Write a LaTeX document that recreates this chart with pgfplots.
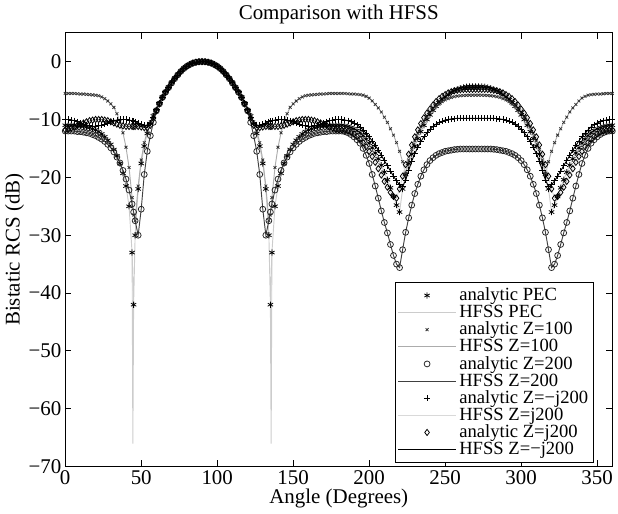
\documentclass[border=0pt]{standalone}
\usepackage{fontspec}
\setmainfont{Liberation Serif}
\usepackage{pgfplots}
\usepackage{pgfplotstable}
\pgfplotsset{compat=1.18}

% angle, PEC, Z=100, Z=200, Z=-j200, Z=j200 (dB)
\pgfplotstableread{
ang pec z100 z200 zmj zj
0 -11.0 -5.5 -12.0 -10.0 -11.8
2 -11.0 -5.5 -12.0 -10.0 -11.7
4 -11.0 -5.5 -12.0 -10.1 -11.5
6 -11.0 -5.5 -12.0 -10.2 -11.3
8 -11.1 -5.55 -12.1 -10.4 -11.0
10 -11.1 -5.6 -12.1 -10.6 -10.8
12 -11.2 -5.6 -12.2 -10.8 -10.6
14 -11.3 -5.65 -12.3 -11.0 -10.4
16 -11.4 -5.7 -12.4 -11.1 -10.2
18 -11.6 -5.75 -12.6 -11.2 -10.1
20 -11.8 -5.8 -12.8 -11.2 -10.0
22 -12.1 -5.9 -13.1 -11.1 -10.0
24 -12.5 -6.1 -13.4 -11.0 -10.0
26 -13.0 -6.4 -13.8 -10.8 -10.1
28 -13.6 -6.8 -14.3 -10.6 -10.2
30 -14.3 -7.3 -14.9 -10.4 -10.4
32 -15.2 -7.9 -15.6 -10.2 -10.6
34 -16.3 -9.0 -16.5 -10.1 -10.8
36 -17.6 -10.4 -17.5 -10.0 -11.0
38 -19.3 -12.3 -18.8 -10.0 -11.1
40 -21.5 -14.8 -20.3 -10.0 -11.2
42 -25.0 -18.3 -22.2 -10.1 -11.2
44 -33.0 -23.5 -24.6 -10.2 -11.2
45 -42.0 -26.5 -26.0 -10.3 -11.2
46 -30.0 -27.5 -27.5 -10.4 -11.2
48 -22.0 -21.5 -30.0 -10.6 -11.2
50 -17.6 -17.0 -25.5 -10.8 -11.3
52 -14.6 -14.0 -19.5 -11.0 -11.4
54 -12.4 -12.0 -15.5 -11.0 -11.4
56 -10.7 -10.4 -12.8 -10.6 -11.0
58 -9.4 -9.2 -10.5 -9.6 -9.8
60 -8.3 -8.2 -8.5 -8.3 -8.5
62 -7.2 -7.1 -7.3 -7.1 -7.3
64 -6.1 -6.1 -6.2 -6.1 -6.2
66 -5.2 -5.2 -5.3 -5.2 -5.3
68 -4.4 -4.4 -4.5 -4.4 -4.5
70 -3.6 -3.6 -3.7 -3.6 -3.7
72 -2.9 -2.9 -2.95 -2.9 -2.95
74 -2.3 -2.3 -2.3 -2.3 -2.3
76 -1.7 -1.7 -1.7 -1.7 -1.7
78 -1.2 -1.2 -1.2 -1.2 -1.2
80 -0.8 -0.8 -0.8 -0.8 -0.8
82 -0.5 -0.5 -0.5 -0.5 -0.5
84 -0.25 -0.25 -0.25 -0.25 -0.25
86 -0.1 -0.1 -0.1 -0.1 -0.1
88 -0.02 -0.02 -0.02 -0.02 -0.02
90 0 0 0 0 0
92 -0.02 -0.02 -0.02 -0.02 -0.02
94 -0.1 -0.1 -0.1 -0.1 -0.1
96 -0.25 -0.25 -0.25 -0.25 -0.25
98 -0.5 -0.5 -0.5 -0.5 -0.5
100 -0.8 -0.8 -0.8 -0.8 -0.8
102 -1.2 -1.2 -1.2 -1.2 -1.2
104 -1.7 -1.7 -1.7 -1.7 -1.7
106 -2.3 -2.3 -2.3 -2.3 -2.3
108 -2.9 -2.9 -2.95 -2.9 -2.95
110 -3.6 -3.6 -3.7 -3.6 -3.7
112 -4.4 -4.4 -4.5 -4.4 -4.5
114 -5.2 -5.2 -5.3 -5.2 -5.3
116 -6.1 -6.1 -6.2 -6.1 -6.2
118 -7.2 -7.1 -7.3 -7.1 -7.3
120 -8.3 -8.2 -8.5 -8.3 -8.5
122 -9.4 -9.2 -10.5 -9.6 -9.8
124 -10.7 -10.4 -12.8 -10.6 -11.0
126 -12.4 -12.0 -15.5 -11.0 -11.4
128 -14.6 -14.0 -19.5 -11.0 -11.4
130 -17.6 -17.0 -25.5 -10.8 -11.3
132 -22.0 -21.5 -30.0 -10.6 -11.2
134 -30.0 -27.5 -27.5 -10.4 -11.2
135 -42.0 -26.5 -26.0 -10.3 -11.2
136 -33.0 -23.5 -24.6 -10.2 -11.2
138 -25.0 -18.3 -22.2 -10.1 -11.2
140 -21.5 -14.8 -20.3 -10.0 -11.2
142 -19.3 -12.3 -18.8 -10.0 -11.1
144 -17.6 -10.4 -17.5 -10.0 -11.0
146 -16.3 -9.0 -16.5 -10.1 -10.8
148 -15.2 -7.9 -15.6 -10.2 -10.6
150 -14.3 -7.3 -14.9 -10.4 -10.4
152 -13.6 -6.8 -14.3 -10.6 -10.2
154 -13.0 -6.4 -13.8 -10.8 -10.1
156 -12.5 -6.1 -13.4 -11.0 -10.0
158 -12.1 -5.9 -13.1 -11.1 -10.0
160 -11.8 -5.8 -12.8 -11.2 -10.0
162 -11.6 -5.75 -12.6 -11.2 -10.1
164 -11.4 -5.7 -12.4 -11.1 -10.2
166 -11.3 -5.65 -12.3 -11.0 -10.4
168 -11.2 -5.6 -12.2 -10.8 -10.6
170 -11.1 -5.6 -12.1 -10.6 -10.8
172 -11.1 -5.55 -12.1 -10.4 -11.0
174 -11.0 -5.5 -12.0 -10.2 -11.3
176 -11.0 -5.5 -12.0 -10.1 -11.5
178 -11.0 -5.5 -12.0 -10.0 -11.7
180 -11.0 -5.5 -12.0 -10.0 -11.8
182 -11.0 -5.5 -12.0 -10.0 -11.8
184 -11.1 -5.5 -12.1 -10.1 -11.9
186 -11.2 -5.55 -12.3 -10.2 -12.0
188 -11.4 -5.6 -12.6 -10.4 -12.2
190 -11.6 -5.6 -13.0 -10.6 -12.5
192 -11.9 -5.65 -13.5 -10.9 -12.9
194 -12.3 -5.7 -14.1 -11.3 -13.4
196 -12.8 -5.8 -15.0 -11.8 -14.0
198 -13.4 -6.0 -16.2 -12.4 -14.7
200 -14.1 -6.3 -17.6 -13.0 -15.5
202 -14.9 -6.8 -19.5 -13.7 -16.4
204 -15.8 -7.4 -21.5 -14.5 -17.4
206 -16.8 -8.0 -23.6 -15.3 -18.5
208 -17.9 -8.7 -25.8 -16.2 -19.6
210 -19.1 -9.6 -27.8 -17.1 -20.7
212 -20.4 -10.5 -29.6 -18.0 -21.7
214 -21.8 -11.6 -31.6 -18.9 -22.6
216 -23.3 -12.7 -33.5 -19.8 -23.3
218 -24.8 -14.0 -35.0 -20.6 -23.6
220 -26.0 -15.5 -35.6 -21.3 -22.0
222 -22.0 -17.3 -32.5 -21.6 -19.8
224 -19.5 -19.3 -29.5 -20.5 -17.8
226 -17.6 -17.0 -27.0 -18.8 -16.0
228 -16.0 -15.2 -24.8 -17.2 -14.4
230 -14.6 -13.7 -22.8 -15.9 -13.0
232 -13.3 -12.4 -21.2 -14.8 -11.8
234 -12.1 -11.3 -19.8 -13.8 -10.7
236 -11.0 -10.3 -18.7 -13.0 -9.7
238 -10.0 -9.5 -17.8 -12.3 -8.9
240 -9.2 -8.8 -17.1 -11.7 -8.2
242 -8.4 -8.2 -16.6 -11.2 -7.5
244 -7.7 -7.7 -16.2 -10.8 -6.9
246 -7.1 -7.3 -15.9 -10.5 -6.4
248 -6.6 -6.9 -15.7 -10.3 -6.0
250 -6.1 -6.6 -15.5 -10.1 -5.7
252 -5.7 -6.4 -15.4 -10.0 -5.4
254 -5.3 -6.2 -15.3 -9.9 -5.2
256 -5.0 -6.05 -15.2 -9.85 -5.05
258 -4.8 -5.95 -15.15 -9.8 -4.95
260 -4.6 -5.9 -15.1 -9.8 -4.87
262 -4.45 -5.85 -15.1 -9.8 -4.82
264 -4.35 -5.82 -15.1 -9.8 -4.8
266 -4.3 -5.8 -15.1 -9.8 -4.8
268 -4.3 -5.8 -15.1 -9.8 -4.8
270 -4.3 -5.8 -15.1 -9.8 -4.8
272 -4.3 -5.8 -15.1 -9.8 -4.8
274 -4.3 -5.8 -15.1 -9.8 -4.8
276 -4.35 -5.82 -15.1 -9.8 -4.8
278 -4.45 -5.85 -15.1 -9.8 -4.82
280 -4.6 -5.9 -15.1 -9.8 -4.87
282 -4.8 -5.95 -15.15 -9.8 -4.95
284 -5.0 -6.05 -15.2 -9.85 -5.05
286 -5.3 -6.2 -15.3 -9.9 -5.2
288 -5.7 -6.4 -15.4 -10.0 -5.4
290 -6.1 -6.6 -15.5 -10.1 -5.7
292 -6.6 -6.9 -15.7 -10.3 -6.0
294 -7.1 -7.3 -15.9 -10.5 -6.4
296 -7.7 -7.7 -16.2 -10.8 -6.9
298 -8.4 -8.2 -16.6 -11.2 -7.5
300 -9.2 -8.8 -17.1 -11.7 -8.2
302 -10.0 -9.5 -17.8 -12.3 -8.9
304 -11.0 -10.3 -18.7 -13.0 -9.7
306 -12.1 -11.3 -19.8 -13.8 -10.7
308 -13.3 -12.4 -21.2 -14.8 -11.8
310 -14.6 -13.7 -22.8 -15.9 -13.0
312 -16.0 -15.2 -24.8 -17.2 -14.4
314 -17.6 -17.0 -27.0 -18.8 -16.0
316 -19.5 -19.3 -29.5 -20.5 -17.8
318 -22.0 -17.3 -32.5 -21.6 -19.8
320 -26.0 -15.5 -35.6 -21.3 -22.0
322 -24.8 -14.0 -35.0 -20.6 -23.6
324 -23.3 -12.7 -33.5 -19.8 -23.3
326 -21.8 -11.6 -31.6 -18.9 -22.6
328 -20.4 -10.5 -29.6 -18.0 -21.7
330 -19.1 -9.6 -27.8 -17.1 -20.7
332 -17.9 -8.7 -25.8 -16.2 -19.6
334 -16.8 -8.0 -23.6 -15.3 -18.5
336 -15.8 -7.4 -21.5 -14.5 -17.4
338 -14.9 -6.8 -19.5 -13.7 -16.4
340 -14.1 -6.3 -17.6 -13.0 -15.5
342 -13.4 -6.0 -16.2 -12.4 -14.7
344 -12.8 -5.8 -15.0 -11.8 -14.0
346 -12.3 -5.7 -14.1 -11.3 -13.4
348 -11.9 -5.65 -13.5 -10.9 -12.9
350 -11.6 -5.6 -13.0 -10.6 -12.5
352 -11.4 -5.6 -12.6 -10.4 -12.2
354 -11.2 -5.55 -12.3 -10.2 -12.0
356 -11.1 -5.5 -12.1 -10.1 -11.9
358 -11.0 -5.5 -12.0 -10.0 -11.8
360 -11.0 -5.5 -12.0 -10.0 -11.8
}\rcs

\begin{document}
\begin{tikzpicture}[font=\fontsize{13.5}{15}\selectfont]
\begin{axis}[
  scale only axis,
  width=353pt, height=280pt,
  xmin=0, xmax=360, ymin=-70, ymax=5,
  xtick={0,50,...,350},
  xticklabels={0,50,100,150,200,250,300,350},
  ytick={-70,-60,...,0},
  yticklabels={−70,−60,−50,−40,−30,−20,−10,0},
  tick align=inside,
  major tick length=4pt,
  tick style={black, line width=0.6pt},
  axis line style={black, line width=0.8pt},
  xticklabel style={yshift=1pt},
  yticklabel style={xshift=1pt},
  title={Comparison with HFSS},
  title style={yshift=-4pt},
  xlabel={Angle (Degrees)},
  ylabel={Bistatic RCS (dB)},
  xlabel style={yshift=4pt},
  ylabel style={yshift=-4pt},
  legend image code/.code={\draw[mark repeat=2,mark phase=2,#1] plot coordinates {(0cm,0cm) (0.65cm,0cm) (1.3cm,0cm)};},
  legend style={at={(0.967,0.426)}, anchor=north east, draw=black, line width=0.8pt,
    row sep=-2.6pt, inner sep=1.5pt, font=\fontsize{12}{12}\selectfont},
  legend cell align=left,
]
\addplot[only marks, mark=asterisk, mark size=2pt, black, mark options={line width=0.5pt}] table[x=ang,y=pec]{\rcs};
\addlegendentry{analytic PEC}
\addplot[gray!40, line width=0.6pt] table[x=ang,y=pec]{\rcs};
\addlegendentry{HFSS PEC}
\addplot[only marks, mark=x, mark size=1.3pt, black!80, mark options={line width=0.5pt}] table[x=ang,y=z100]{\rcs};
\addlegendentry{analytic Z=100}
\addplot[gray!65, line width=0.6pt] table[x=ang,y=z100]{\rcs};
\addlegendentry{HFSS Z=100}
\addplot[only marks, mark=o, mark size=1.9pt, black!85, mark options={line width=0.5pt}] table[x=ang,y=z200]{\rcs};
\addlegendentry{analytic Z=200}
\addplot[black!75, line width=0.6pt] table[x=ang,y=z200]{\rcs};
\addlegendentry{HFSS Z=200}
\addplot[only marks, mark=+, mark size=2pt, black, mark options={line width=0.5pt}] table[x=ang,y=zmj]{\rcs};
\addlegendentry{analytic Z=−j200}
\addplot[gray!30, line width=0.6pt] table[x=ang,y=zj]{\rcs};
\addlegendentry{HFSS Z=j200}
\addplot[only marks, mark=diamond, mark size=2pt, black, mark options={line width=0.5pt}] table[x=ang,y=zj]{\rcs};
\addlegendentry{analytic Z=j200}
\addplot[black, line width=0.6pt] table[x=ang,y=zmj]{\rcs};
\addlegendentry{HFSS Z=−j200}
\addplot[gray!40, line width=0.6pt, forget plot] coordinates {(44,-33) (44.5,-66) (45,-42)};
\addplot[gray!40, line width=0.6pt, forget plot] coordinates {(135,-42) (135.5,-66) (136,-33)};
\end{axis}
\end{tikzpicture}
\end{document}
